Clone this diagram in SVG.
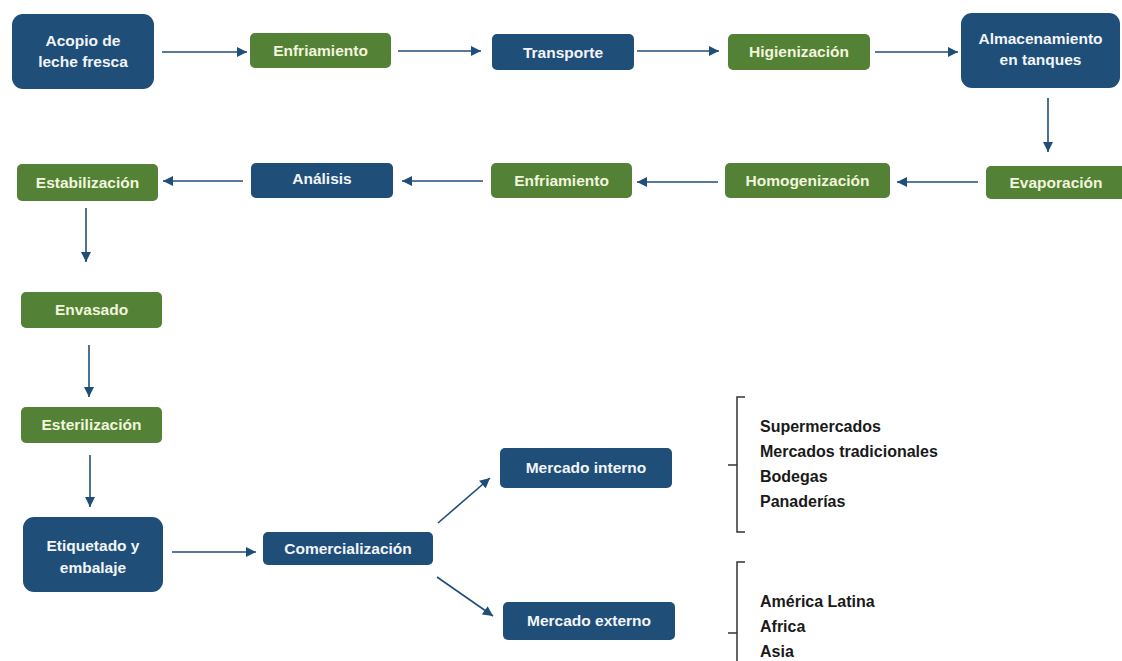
<svg xmlns="http://www.w3.org/2000/svg" width="1122" height="661" viewBox="0 0 1122 661">
<style>
.b{fill:#1f4e79}
.g{fill:#538135}
.t{font-family:"Liberation Sans",Arial,sans-serif;font-weight:bold;font-size:15.5px;text-anchor:middle}
.tb{fill:#f2f5f8}
.tg{fill:#f0f5dc}
.c{stroke:#1f4e79;stroke-width:1.6;fill:none}
.br{stroke:#333;stroke-width:1.5;fill:none}
.l{font-family:"Liberation Sans",Arial,sans-serif;font-weight:bold;font-size:16px;fill:#1a1a1a}
</style>
<defs>
<marker id="ah" viewBox="0 0 10 10" refX="10" refY="5" markerWidth="11" markerHeight="10" markerUnits="userSpaceOnUse" orient="auto">
<path d="M0,0 L10,5 L0,10 z" fill="#1f4e79"/>
</marker>
</defs>
<rect width="1122" height="661" fill="#fff"/>
<g id="n1"><rect class="b" x="12" y="14" width="142" height="75" rx="11"/><text class="t tb" x="83" y="46">Acopio de</text><text class="t tb" x="83" y="67">leche fresca</text></g>
<g id="n2"><rect class="g" x="250" y="33" width="141" height="35" rx="5"/><text class="t tg" x="320.5" y="56">Enfriamiento</text></g>
<g id="n3"><rect class="b" x="492" y="34" width="142" height="36" rx="5"/><text class="t tb" x="563" y="58">Transporte</text></g>
<g id="n4"><rect class="g" x="728" y="34" width="142" height="36" rx="5"/><text class="t tg" x="799" y="57">Higienización</text></g>
<g id="n5"><rect class="b" x="961" y="13" width="159" height="75" rx="11"/><text class="t tb" x="1040.5" y="44">Almacenamiento</text><text class="t tb" x="1040.5" y="65">en tanques</text></g>
<g id="n6"><rect class="g" x="986" y="166" width="140" height="33" rx="5"/><text class="t tg" x="1056" y="188">Evaporación</text></g>
<g id="n7"><rect class="g" x="725" y="163" width="165" height="35" rx="5"/><text class="t tg" x="807.5" y="186">Homogenización</text></g>
<g id="n8"><rect class="g" x="491" y="163" width="141" height="35" rx="5"/><text class="t tg" x="561.5" y="186">Enfriamiento</text></g>
<g id="n9"><rect class="b" x="251" y="163" width="142" height="35" rx="5"/><text class="t tb" x="322" y="184">Análisis</text></g>
<g id="n10"><rect class="g" x="17" y="164" width="141" height="37" rx="5"/><text class="t tg" x="87.5" y="188">Estabilización</text></g>
<g id="n11"><rect class="g" x="21" y="292" width="141" height="36" rx="5"/><text class="t tg" x="91.5" y="315">Envasado</text></g>
<g id="n12"><rect class="g" x="21" y="407" width="141" height="36" rx="5"/><text class="t tg" x="91.5" y="430">Esterilización</text></g>
<g id="n13"><rect class="b" x="23" y="517" width="140" height="75" rx="11"/><text class="t tb" x="93" y="551">Etiquetado  y</text><text class="t tb" x="93" y="573">embalaje</text></g>
<g id="n14"><rect class="b" x="263" y="532" width="170" height="33" rx="5"/><text class="t tb" x="348" y="554">Comercialización</text></g>
<g id="n15"><rect class="b" x="500" y="448" width="172" height="40" rx="5"/><text class="t tb" x="586" y="473">Mercado interno</text></g>
<g id="n16"><rect class="b" x="503" y="602" width="172" height="38" rx="5"/><text class="t tb" x="589" y="626">Mercado externo</text></g>
<g id="connectors">
<line class="c" x1="162" y1="52" x2="247" y2="52" marker-end="url(#ah)"/>
<line class="c" x1="398" y1="51" x2="481" y2="51" marker-end="url(#ah)"/>
<line class="c" x1="637" y1="51" x2="719" y2="51" marker-end="url(#ah)"/>
<line class="c" x1="875" y1="52" x2="958" y2="52" marker-end="url(#ah)"/>
<line class="c" x1="1048" y1="98" x2="1048" y2="152" marker-end="url(#ah)"/>
<line class="c" x1="978" y1="182" x2="897" y2="182" marker-end="url(#ah)"/>
<line class="c" x1="718" y1="182" x2="637" y2="182" marker-end="url(#ah)"/>
<line class="c" x1="483" y1="181" x2="402" y2="181" marker-end="url(#ah)"/>
<line class="c" x1="243" y1="181" x2="163" y2="181" marker-end="url(#ah)"/>
<line class="c" x1="86" y1="208" x2="86" y2="262" marker-end="url(#ah)"/>
<line class="c" x1="89" y1="345" x2="89" y2="397" marker-end="url(#ah)"/>
<line class="c" x1="90" y1="455" x2="90" y2="507" marker-end="url(#ah)"/>
<line class="c" x1="172" y1="552" x2="256" y2="552" marker-end="url(#ah)"/>
<line class="c" x1="438" y1="523" x2="490" y2="478" marker-end="url(#ah)"/>
<line class="c" x1="437" y1="577" x2="493" y2="616" marker-end="url(#ah)"/>
</g>
<g id="bracket1">
<path class="br" d="M745,397 L737,397 L737,532 L745,532 M737,465 L728,465"/>
<text class="l" x="760" y="432">Supermercados</text>
<text class="l" x="760" y="457">Mercados tradicionales</text>
<text class="l" x="760" y="482">Bodegas</text>
<text class="l" x="760" y="507">Panaderías</text>
</g>
<g id="bracket2">
<path class="br" d="M745,562 L737,562 L737,661 M737,633 L728,633"/>
<text class="l" x="760" y="607">América Latina</text>
<text class="l" x="760" y="632">Africa</text>
<text class="l" x="760" y="657">Asia</text>
</g>
</svg>
